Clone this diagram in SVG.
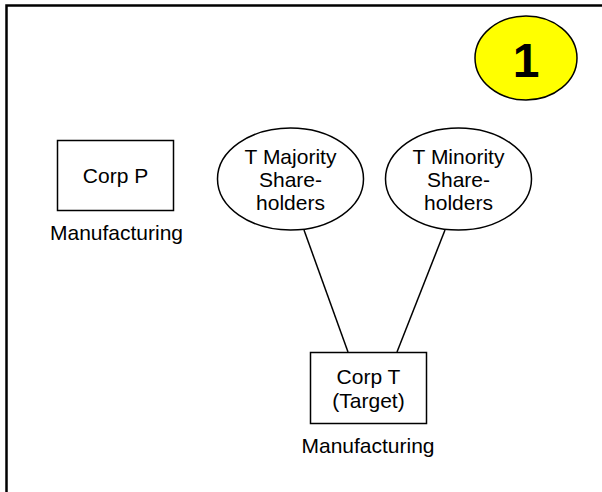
<svg xmlns="http://www.w3.org/2000/svg" width="602" height="492" viewBox="0 0 602 492">
<style>
.shape{fill:#fff;stroke:#000;stroke-width:1.5}
.t{font-family:"Liberation Sans",Arial,sans-serif;font-size:21px;fill:#000;text-anchor:middle}
.conn{stroke:#000;stroke-width:1.5;fill:none}
</style>
<rect x="6.5" y="5.5" width="600" height="500" fill="#fff" stroke="#000" stroke-width="2.5"/>
<g id="badge">
<ellipse cx="526" cy="58" rx="51" ry="42" fill="#ffff00" stroke="#000" stroke-width="1.5"/>
<text x="526" y="77" class="t" style="font-size:48px;font-weight:bold">1</text>
</g>
<g id="connectors">
<line class="conn" x1="304" y1="230" x2="348" y2="352"/>
<line class="conn" x1="445" y1="230" x2="397" y2="352"/>
</g>
<g id="corpP">
<rect class="shape" x="57.5" y="140.5" width="116" height="70"/>
<text x="115.5" y="183" class="t">Corp P</text>
<text x="116.5" y="240" class="t">Manufacturing</text>
</g>
<g id="majority">
<ellipse class="shape" cx="290.5" cy="179" rx="73" ry="51"/>
<text x="290.5" y="164" class="t">T Majority</text>
<text x="290.5" y="187" class="t">Share-</text>
<text x="290.5" y="210" class="t">holders</text>
</g>
<g id="minority">
<ellipse class="shape" cx="458.5" cy="179" rx="73" ry="51"/>
<text x="458.5" y="164" class="t">T Minority</text>
<text x="458.5" y="187" class="t">Share-</text>
<text x="458.5" y="210" class="t">holders</text>
</g>
<g id="corpT">
<rect class="shape" x="310.5" y="352.5" width="116" height="71"/>
<text x="368.5" y="384" class="t">Corp T</text>
<text x="368.5" y="408" class="t">(Target)</text>
<text x="368" y="453" class="t">Manufacturing</text>
</g>
</svg>
